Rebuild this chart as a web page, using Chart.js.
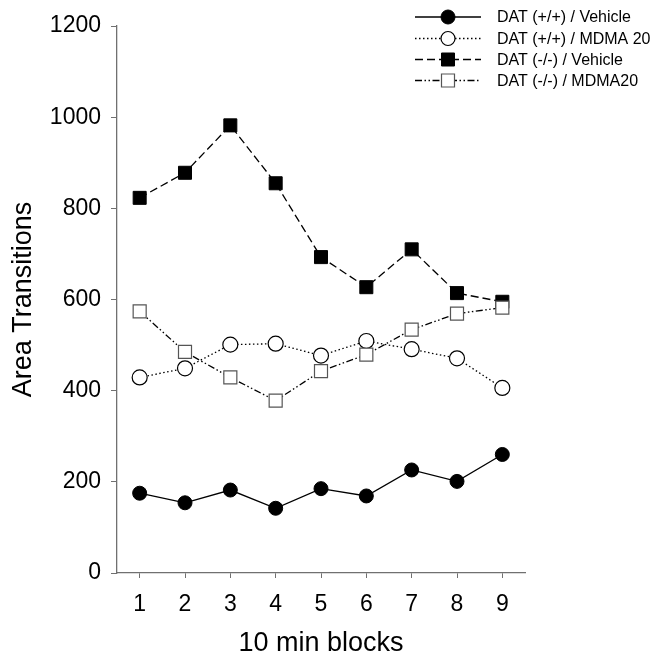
<!DOCTYPE html>
<html>
<head>
<meta charset="utf-8">
<script src="https://cdn.jsdelivr.net/npm/chart.js@4/dist/chart.umd.min.js"></script>
<style>
html,body{margin:0;padding:0;background:#fff;}
#wrap{width:659px;height:662px;}
</style>
</head>
<body>
<div id="wrap"><canvas id="c" width="659" height="662"></canvas></div>
<script>
const blocks = ['1','2','3','4','5','6','7','8','9'];
const wtVehicle = [175, 154, 182, 142, 185, 169, 226, 201, 260];
const wtMdma = [429, 449, 501, 503, 477, 509, 491, 471, 406];
const koVehicle = [823, 878, 982, 855, 693, 627, 710, 614, 595];
const koMdma = [574, 485, 429, 378, 443, 479, 534, 569, 582];
const seriesNames = ['DAT (+/+) / Vehicle', 'DAT (+/+) / MDMA 20', 'DAT (-/-) / Vehicle', 'DAT (-/-) / MDMA20'];
const yTicks = [0, 200, 400, 600, 800, 1000, 1200];

const FONT = "'Liberation Sans', Arial, sans-serif";
const AXIS = '#707070';

const datasets = [
  {label: seriesNames[0], data: wtVehicle, borderColor:'#000', backgroundColor:'#000', borderWidth:1.3, borderDash:[],
   pointStyle:'circle', pointRadius:7, pointBackgroundColor:'#000', pointBorderColor:'#000', pointBorderWidth:1, order:3},
  {label: seriesNames[1], data: wtMdma, borderColor:'#000', backgroundColor:'#fff', borderWidth:1.3, borderDash:[1.5,2.5],
   pointStyle:'circle', pointRadius:7.5, pointBackgroundColor:'#fff', pointBorderColor:'#000', pointBorderWidth:1.2, order:2},
  {label: seriesNames[2], data: koVehicle, borderColor:'#000', backgroundColor:'#000', borderWidth:1.3, borderDash:[8,4],
   pointStyle:'rect', pointRadius:9.2, pointBackgroundColor:'#000', pointBorderColor:'#000', pointBorderWidth:1, order:1},
  {label: seriesNames[3], data: koMdma, borderColor:'#000', backgroundColor:'#fff', borderWidth:1.3, borderDash:[7,2.5,1.5,2.5,1.5,2.5],
   pointStyle:'rect', pointRadius:9.2, pointBackgroundColor:'#fff', pointBorderColor:'#555', pointBorderWidth:1.2, order:0}
];

const legendPlugin = {
  id:'customLegend',
  afterDraw(chart){
    const ctx = chart.ctx;
    const rows = [17, 38.5, 59.5, 80.5];
    ctx.save();
    [0,1,2,3].forEach((i, k) => {
      const ds = chart.data.datasets[i];
      const y = rows[k];
      ctx.strokeStyle = '#000';
      ctx.lineWidth = 1.3;
      ctx.setLineDash(ds.borderDash);
      ctx.beginPath();
      ctx.moveTo(415, y); ctx.lineTo(481, y);
      ctx.stroke();
      ctx.setLineDash([]);
      ctx.fillStyle = ds.pointBackgroundColor;
      ctx.strokeStyle = ds.pointBorderColor;
      ctx.lineWidth = ds.pointBorderWidth;
      const cx = 448;
      if (ds.pointStyle === 'circle') {
        ctx.beginPath(); ctx.arc(cx, y, 7, 0, Math.PI*2); ctx.fill(); ctx.stroke();
      } else {
        ctx.beginPath(); ctx.rect(cx-6.5, y-6.5, 13, 13); ctx.fill(); ctx.stroke();
      }
      ctx.fillStyle = '#000';
      ctx.font = '16px ' + FONT;
      ctx.textBaseline = 'middle';
      ctx.textAlign = 'left';
      ctx.fillText(ds.label, 497, y + 1);
    });
    ctx.restore();
  }
};

new Chart(document.getElementById('c'), {
  type:'line',
  data:{labels: blocks, datasets},
  options:{
    responsive:false,
    animation:false,
    devicePixelRatio:1,
    layout:{padding:{left:0, right:134, top:26, bottom:0}},
    plugins:{legend:{display:false}, tooltip:{enabled:false}},
    scales:{
      x:{
        type:'category',
        offset:true,
        grid:{display:true, drawOnChartArea:false, drawTicks:true, tickLength:5, color:AXIS, offset:false},
        border:{display:true, color:AXIS, width:1.3},
        ticks:{color:'#000', font:{family:FONT, size:23}, padding:13, maxRotation:0},
        title:{display:true, text:'10 min blocks', color:'#000', font:{family:FONT, size:27}, padding:{top:0,bottom:2}},
        afterFit(scale){ scale.height = 89; }
      },
      y:{
        min:0, max:1200,
        afterBuildTicks(scale){ scale.ticks = yTicks.map(v => ({value:v})); },
        grid:{display:true, drawOnChartArea:false, drawTicks:true, tickLength:6, color:AXIS},
        border:{display:true, color:AXIS, width:1.3},
        ticks:{color:'#000', font:{family:FONT, size:23}, padding:10, callback:(v) => String(v)},
        title:{display:true, text:'Area Transitions', color:'#000', font:{family:FONT, size:27}, padding:{top:7,bottom:0}},
        afterFit(scale){ scale.width = 117; }
      }
    }
  },
  plugins:[legendPlugin]
});
</script>
</body>
</html>
